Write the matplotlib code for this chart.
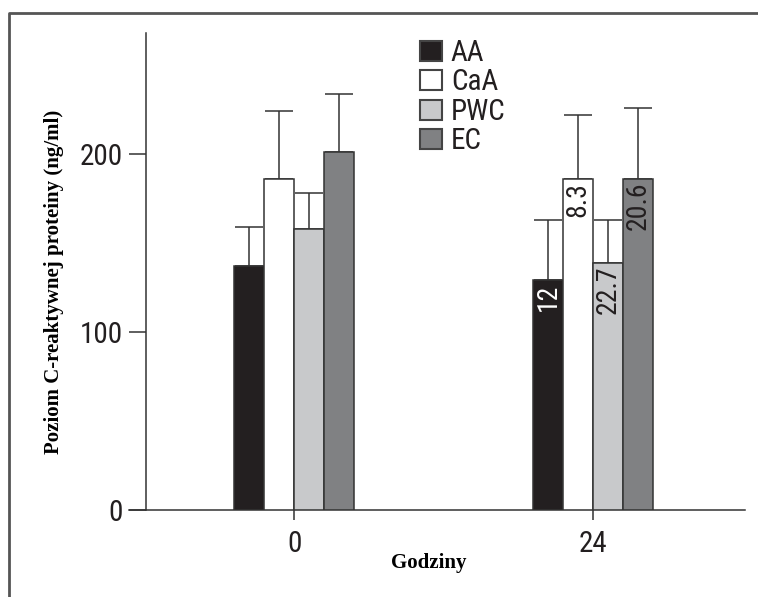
import matplotlib
matplotlib.use("Agg")
import matplotlib.pyplot as plt
from matplotlib.patches import Patch
import numpy as np

# data
hours = ["0", "24"]
groups = ["AA", "CaA", "PWC", "EC"]
means = {
    "AA": [137, 129],
    "CaA": [186, 186],
    "PWC": [158, 139],
    "EC": [201, 186],
}
err_top = {
    "AA": [159, 163],
    "CaA": [224, 222],
    "PWC": [178, 163],
    "EC": [234, 226],
}
bar_notes = ["12", "8.3", "22.7", "20.6"]   # inside the 24 h bars

colors = ["#231f20", "#ffffff", "#c8c9cb", "#808183"]
note_colors = ["white", "#231f20", "#231f20", "#231f20"]

cond = ["Roboto Condensed", "Roboto", "DejaVu Sans"]
dark = "#231f20"

fig = plt.figure(figsize=(7.58, 5.97), dpi=100)
W, H = 758, 597
ax = fig.add_axes([129 / W, 1 - 510 / H, 616 / W, 477 / H])

x = np.arange(len(hours))
w = 0.1
offs = [-1.5, -0.5, 0.5, 1.5]

for i, g in enumerate(groups):
    m = np.array(means[g])
    up = np.array(err_top[g]) - m
    ax.bar(x + offs[i] * w, m, w, color=colors[i], edgecolor="#333333",
           linewidth=1.1, zorder=3)
    ax.errorbar(x + offs[i] * w, m, yerr=[np.zeros_like(up), up], fmt="none",
                ecolor="#333333", elinewidth=1.1, capsize=10, capthick=1.1,
                zorder=2)
    ax.annotate(bar_notes[i], (x[1] + offs[i] * w, m[1]), xytext=(0, -2),
                textcoords="offset points", rotation=90, ha="center",
                va="top", fontsize=20, family=cond, color=note_colors[i],
                zorder=4)

ax.set_xlim(-0.552, 1.508)
ax.set_ylim(0, 268)
ax.set_xticks(x)
ax.set_xticklabels(hours)
ax.set_yticks([0, 100, 200])

for s in ["top", "right"]:
    ax.spines[s].set_visible(False)
ax.spines["left"].set_position(("data", -0.495))
for s in ["left", "bottom"]:
    ax.spines[s].set_color("#333333")
    ax.spines[s].set_linewidth(1.1)

ax.tick_params(axis="y", length=12, width=1.1, color="#333333", pad=5)
ax.tick_params(axis="x", length=7.5, width=1.1, color="#333333", pad=7)
for lab in ax.get_xticklabels() + ax.get_yticklabels():
    lab.set_family(cond)
    lab.set_fontsize(21)
    lab.set_color(dark)

ax.set_ylabel("Poziom C-reaktywnej proteiny (ng/ml)", family="Liberation Serif",
              fontweight="bold", fontsize=15, va="center")
ax.yaxis.set_label_coords(-0.122, 0.478)
ax.set_xlabel("Godziny", family="Liberation Serif", fontweight="bold",
              fontsize=15, va="center")
ax.xaxis.set_label_coords(0.487, -0.111)

handles = [Patch(facecolor=c, edgecolor="#444444", linewidth=1.5) for c in colors]
leg = ax.legend(handles, groups, loc="upper left",
                bbox_to_anchor=(420 / W, 1 - 39 / H),
                bbox_transform=fig.transFigure, frameon=False,
                prop={"family": cond, "size": 21}, handlelength=0.76,
                handleheight=0.69, handletextpad=0.3, labelspacing=0.05,
                borderpad=0, borderaxespad=0)
for t in leg.get_texts():
    t.set_color(dark)

# outer frame: top and left edges only
fig.add_artist(plt.Line2D([9 / W, 9 / W, 1], [0, 1 - 13 / H, 1 - 13 / H],
                          transform=fig.transFigure, color="#555555",
                          linewidth=2))

fig.savefig("out.png", dpi=100)
